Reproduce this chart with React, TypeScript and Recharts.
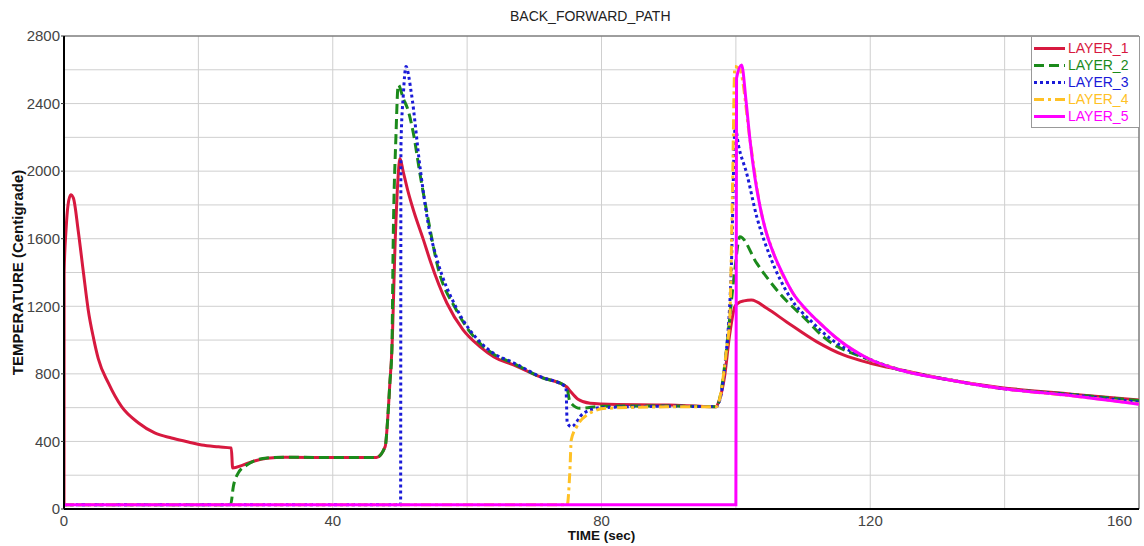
import { CartesianGrid, Label, Line, LineChart, ReferenceLine, XAxis, YAxis } from "recharts"

// time (sec) / temperature (Centigrade)
const layer1Time = [
  0, 0.02, 0.3, 0.6, 1.0, 1.4, 2.1, 2.9, 3.6, 4.4, 5.1, 6.6, 8.6, 11.1, 13.5, 16, 18.5, 20.5, 23, 24.9, 25.1, 26.6,
  28, 30.2, 33, 40, 46.5, 47.8, 48.2, 48.5, 48.8, 49.3, 49.7, 50, 50.5, 51.2, 52, 53.5, 54.5, 57, 59.4, 61.9, 64,
  66.9, 70.8, 74.8, 75.3, 76.5, 78.3, 80, 90, 97, 97.5, 98.3, 99.1, 99.85, 100.3, 101.2, 102.3, 104.6, 107.5, 112,
  116, 120, 125, 131.8, 139.3, 150, 160,
]
const layer1Temp = [
  25, 1400, 1650, 1800, 1860, 1840, 1652, 1397, 1180, 1010, 890, 746, 604, 509, 450, 420, 397, 379, 368, 361, 243,
  260, 280, 300, 306, 305, 305, 369, 546, 745, 940, 1593, 1950, 2075, 1995, 1880, 1770, 1593, 1470, 1218, 1060, 961,
  900, 853, 783, 724, 700, 650, 626, 622, 615, 606, 640, 780, 1040, 1198, 1218, 1232, 1237, 1188, 1109, 991, 912, 863,
  820, 764, 720, 680, 645,
]

const layer2Time = [
  0, 24.8, 25.2, 25.9, 27.2, 30.2, 33, 40, 46.5, 47.8, 48.2, 48.5, 48.8, 49.0, 49.4, 49.75, 50.5, 51.2, 52, 53,
  54.5, 55.5, 58.4, 61.9, 64, 66.8, 70.8, 74.8, 75.3, 76.8, 80, 90, 97.1, 98.6, 99.1, 99.8, 100.6, 103.1, 106.5,
  110.5, 113, 120, 124.4, 131.8, 139.3, 150, 160,
]
const layer2Temp = [
  25, 25, 132, 211, 260, 302, 306, 305, 305, 369, 546, 745, 940, 1593, 2200, 2510, 2430, 2362, 2224, 1980, 1652, 1455,
  1178, 981, 915, 864, 783, 724, 635, 596, 608, 610, 606, 941, 1139, 1400, 1612, 1455, 1277, 1119, 1020, 882, 823, 764,
  715, 678, 642,
]

const layer3Time = [
  0, 50.1, 50.15, 50.5, 50.9, 51.7, 53, 54.2, 55.5, 58.4, 61.9, 64, 66.8, 70.8, 74.7, 74.9, 75.5, 77.3, 80, 90, 97.1,
  98.6, 99.3, 99.9, 100.4, 101.6, 103.1, 105.1, 108, 111.5, 114, 120, 124.4, 131.8, 139.3, 150, 160,
]
const layer3Temp = [
  25, 25, 2150, 2450, 2619, 2461, 2020, 1690, 1480, 1190, 990, 920, 868, 785, 722, 510, 487, 567, 600, 608, 606, 941,
  1400, 2260, 2150, 1988, 1731, 1494, 1257, 1100, 1011, 885, 825, 765, 715, 675, 632,
]

const layer4Time = [
  0, 74.9, 75.3, 75.5, 76.3, 77.8, 80.7, 90, 97.1, 98.6, 99.1, 99.5, 99.85, 100.6, 102.1, 103.6, 105.6, 108.5, 112.5,
  115, 120, 124.4, 131.8, 139.3, 150, 160,
]
const layer4Temp = [
  25, 25, 231, 408, 487, 556, 596, 605, 606, 941, 1139, 1900, 2619, 2600, 2185, 1790, 1514, 1277, 1100, 1011, 885,
  825, 765, 715, 670, 622,
]

const layer5Time = [
  0, 100, 100.1, 100.85, 101.5, 102.1, 102.8, 103.6, 104.5, 105.6, 107, 108.5, 110.5, 112.5, 115, 120, 124.4, 131.8,
  139.3, 150, 160,
]
const layer5Temp = [
  25, 25, 2550, 2629, 2420, 2185, 1970, 1790, 1640, 1514, 1390, 1277, 1180, 1100, 1011, 885, 823, 764, 715, 670, 620,
]

const timeTicks = [0, 20, 40, 60, 80, 100, 120, 140, 160]
const tempTicks = [0, 200, 400, 600, 800, 1000, 1200, 1400, 1600, 1800, 2000, 2200, 2400, 2600, 2800]

const toPoints = (times: number[], temps: number[]) => times.map((t, i) => ({ t, temp: temps[i] }))

const layers = [
  { name: "LAYER_1", color: "#d7193f", dash: undefined, points: toPoints(layer1Time, layer1Temp) },
  { name: "LAYER_2", color: "#1b8a1b", dash: "10 5", points: toPoints(layer2Time, layer2Temp) },
  { name: "LAYER_3", color: "#1a1ad8", dash: "3 3", points: toPoints(layer3Time, layer3Temp) },
  { name: "LAYER_4", color: "#ffc125", dash: "10 4 3 4", points: toPoints(layer4Time, layer4Temp) },
  { name: "LAYER_5", color: "#ff00ff", dash: undefined, points: toPoints(layer5Time, layer5Temp) },
]

const font = "'Liberation Sans', Arial, sans-serif"

const XTick = (props: any) => {
  const { x, y, payload } = props
  const v = payload.value
  if (v % 40 !== 0) return <g />
  return (
    <text x={x} y={y} dy="0.71em" textAnchor={v === 160 ? "end" : "middle"} fontSize={15} fill="#444" fontFamily={font}>
      {v}
    </text>
  )
}

const YTick = (props: any) => {
  const { x, y, payload } = props
  const v = payload.value
  if (v % 400 !== 0) return <g />
  return (
    <g>
      <line x1={x + 1} x2={x + 4} y1={y} y2={y} stroke="#333" />
      <text x={x} y={y} dy="0.355em" textAnchor="end" fontSize={15} fill="#444" fontFamily={font}>
        {v}
      </text>
    </g>
  )
}

export default function App() {
  return (
    <div style={{ position: "absolute", left: 0, top: 0, width: 1144, height: 546, background: "#fff", fontFamily: font }}>
      <LineChart width={1144} height={546} margin={{ top: 36, right: 5, bottom: 0, left: 0 }}>
        <CartesianGrid stroke="#cfcfcf" />
        <XAxis
          type="number"
          dataKey="t"
          domain={[0, 160]}
          ticks={timeTicks}
          allowDataOverflow
          height={37}
          tickSize={4}
          tickMargin={2}
          tickLine={false}
          tick={<XTick />}
          axisLine={{ stroke: "#000", strokeWidth: 2 }}
        >
          <Label value="TIME (sec)" position="insideBottom" offset={6} fontSize={13.5} fontWeight="bold" fill="#111" />
        </XAxis>
        <YAxis
          type="number"
          domain={[0, 2800]}
          ticks={tempTicks}
          allowDataOverflow
          width={64}
          tickSize={4}
          tickMargin={0}
          tickLine={false}
          tick={<YTick />}
          axisLine={{ stroke: "#000", strokeWidth: 2 }}
        >
          <Label
            value="TEMPERATURE (Centigrade)"
            angle={-90}
            position="insideLeft"
            offset={18}
            fontSize={15}
            fontWeight="bold"
            fill="#111"
            style={{ textAnchor: "middle" }}
          />
        </YAxis>
        <ReferenceLine y={2800} stroke="#555" />
        <ReferenceLine x={160} stroke="#555" />
        {layers.map((l) => (
          <Line
            key={l.name}
            data={l.points}
            dataKey="temp"
            name={l.name}
            type="monotoneX"
            stroke={l.color}
            strokeWidth={3}
            strokeDasharray={l.dash}
            dot={false}
            isAnimationActive={false}
          />
        ))}
      </LineChart>

      <div style={{ position: "absolute", left: 510, top: 9, fontSize: 14, lineHeight: "14px", color: "#222" }}>
        BACK_FORWARD_PATH
      </div>

      <div
        style={{
          position: "absolute",
          left: 1031,
          top: 36,
          width: 107,
          padding: "3px 0 2px 0",
          border: "1px solid #999",
          background: "#fff",
        }}
      >
        {layers.map((l) => (
          <div key={l.name} style={{ display: "flex", alignItems: "center", height: 17 }}>
            <svg width={34} height={17} style={{ marginLeft: 2 }}>
              <line x1={0} x2={31} y1={8.5} y2={8.5} stroke={l.color} strokeWidth={3} strokeDasharray={l.dash} />
            </svg>
            <span style={{ fontSize: 14, color: l.color, lineHeight: "17px" }}>{l.name}</span>
          </div>
        ))}
      </div>
    </div>
  )
}
